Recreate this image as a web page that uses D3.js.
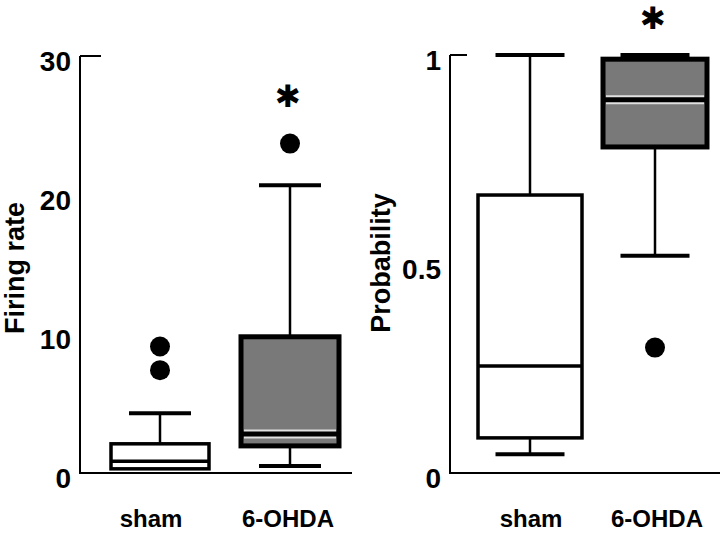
<!DOCTYPE html>
<html><head><meta charset="utf-8">
<script src="https://cdn.jsdelivr.net/npm/d3@7"></script>
<style>
html,body{margin:0;padding:0;background:#fff;}
svg{display:block;font-family:"Liberation Sans",Arial,Helvetica,sans-serif;}
</style></head>
<body><svg id="chart" width="720" height="534"></svg>
<script>
// ---- data ----
const categories = ["sham", "6-OHDA"];
// Firing rate panel
const firingWhiskerLo = [0.3, 0.5];
const firingQ1 = [0.3, 1.95];
const firingMedian = [0.85, 2.8];
const firingQ3 = [2.1, 9.8];
const firingWhiskerHi = [4.3, 20.7];
const firingOutliers = [[9.1, 7.4], [23.7]];
const firingTicks = [0, 10, 20, 30];
const firingSignif = [false, true];
// Probability panel
const probWhiskerLo = [0.045, 0.52];
const probQ1 = [0.084, 0.78];
const probMedian = [0.256, 0.893];
const probQ3 = [0.665, 0.99];
const probWhiskerHi = [1.0, 1.0];
const probOutliers = [[], [0.30]];
const probTicks = [0, 0.5, 1];
const probTickLabels = ["0", "0.5", "1"];
const probSignif = [false, true];

const svg = d3.select("#chart");
const grayFill = "#797979";

function panel(opt) {
  const g = svg.append("g");
  const y = d3.scaleLinear().domain(opt.domain).range([473, opt.top]);
  const x = d3.scalePoint().domain(categories).range(opt.xCenters);

  // axes lines
  g.append("line").attr("x1", opt.axisX).attr("x2", opt.axisX)
    .attr("y1", y(opt.domain[1])).attr("y2", y(0) + 1)
    .attr("stroke", "#000").attr("stroke-width", 2);
  g.append("line").attr("x1", opt.axisX - 1).attr("x2", opt.axisEnd)
    .attr("y1", y(0)).attr("y2", y(0))
    .attr("stroke", "#000").attr("stroke-width", 2);
  // top tick
  g.append("line").attr("x1", opt.axisX).attr("x2", opt.axisX + opt.topTickLen)
    .attr("y1", y(opt.domain[1])).attr("y2", y(opt.domain[1]))
    .attr("stroke", "#000").attr("stroke-width", 2);
  // tick labels
  g.selectAll(".tl").data(opt.ticks).join("text")
    .attr("x", opt.axisX - 9).attr("y", d => y(d) + 5)
    .attr("dy", "0.36em").attr("text-anchor", "end")
    .attr("font-size", 28).attr("font-weight", "bold")
    .text((d, i) => opt.tickLabels[i]);
  // y label
  g.append("text")
    .attr("transform", `translate(${opt.labelX},${opt.labelY}) rotate(-90)`)
    .attr("text-anchor", "middle").attr("font-size", 27).attr("font-weight", "bold")
    .text(opt.yLabel);
  // x labels
  g.selectAll(".xl").data(categories).join("text")
    .attr("x", (d, i) => x(d) + opt.xLabelShift[i]).attr("y", 527).attr("text-anchor", "middle")
    .attr("font-size", 24).attr("font-weight", "bold")
    .text(d => d);

  const bw = opt.boxWidth, cw = opt.capWidth;
  categories.forEach((c, i) => {
    const cx = x(c);
    const fill = i === 1 ? grayFill : "#fff";
    // whiskers
    g.append("line").attr("x1", cx).attr("x2", cx)
      .attr("y1", y(opt.q3[i])).attr("y2", y(opt.hi[i]))
      .attr("stroke", "#000").attr("stroke-width", 2.5);
    g.append("line").attr("x1", cx).attr("x2", cx)
      .attr("y1", y(opt.q1[i])).attr("y2", y(opt.lo[i]))
      .attr("stroke", "#000").attr("stroke-width", 2.5);
    [opt.hi[i], opt.lo[i]].forEach(v => {
      if (v === opt.q1[i]) return;
      g.append("line").attr("x1", cx - cw / 2).attr("x2", cx + cw / 2)
        .attr("y1", y(v)).attr("y2", y(v))
        .attr("stroke", "#000").attr("stroke-width", 4);
    });
    // box
    g.append("rect").attr("x", cx - bw / 2).attr("width", bw)
      .attr("y", y(opt.q3[i])).attr("height", y(opt.q1[i]) - y(opt.q3[i]))
      .attr("fill", fill).attr("stroke", "#000").attr("stroke-width", i === 1 ? 5 : 3.5);
    // median
    if (i === 1) {
      g.append("line").attr("x1", cx - bw / 2 + 3).attr("x2", cx + bw / 2 - 3)
        .attr("y1", y(opt.med[i])).attr("y2", y(opt.med[i]))
        .attr("stroke", "#e0e0e0").attr("stroke-width", 9);
    }
    g.append("line").attr("x1", cx - bw / 2).attr("x2", cx + bw / 2)
      .attr("y1", y(opt.med[i])).attr("y2", y(opt.med[i]))
      .attr("stroke", "#000").attr("stroke-width", i === 1 ? 5 : 3.5);
    // outliers
    g.selectAll(null).data(opt.out[i]).join("circle")
      .attr("cx", cx).attr("cy", d => y(d)).attr("r", 10).attr("fill", "#000");
    // significance
    if (opt.signif[i]) {
      g.append("text").attr("x", cx + opt.starShift).attr("y", opt.starY)
        .attr("text-anchor", "middle").attr("font-size", 31)
        .attr("font-family", "'DejaVu Sans',sans-serif")
        .text("\u2731");
    }
  });
}

panel({
  domain: [0, 30], top: 56, axisX: 80, axisEnd: 352, topTickLen: 21,
  xCenters: [160, 290], boxWidth: 98, capWidth: 62, xLabelShift: [-9, -2],
  ticks: firingTicks, tickLabels: firingTicks.map(String),
  yLabel: "Firing rate", labelX: 24, labelY: 268,
  lo: firingWhiskerLo, q1: firingQ1, med: firingMedian, q3: firingQ3, hi: firingWhiskerHi,
  out: firingOutliers, signif: firingSignif, starY: 107, starShift: -2
});
panel({
  domain: [0, 1], top: 55, axisX: 450, axisEnd: 720, topTickLen: 17,
  xCenters: [530, 655], boxWidth: 104, capWidth: 69, xLabelShift: [1, 2],
  ticks: probTicks, tickLabels: probTickLabels,
  yLabel: "Probability", labelX: 390, labelY: 263,
  lo: probWhiskerLo, q1: probQ1, med: probMedian, q3: probQ3, hi: probWhiskerHi,
  out: probOutliers, signif: probSignif, starY: 29, starShift: -2
});
</script>
</body></html>
